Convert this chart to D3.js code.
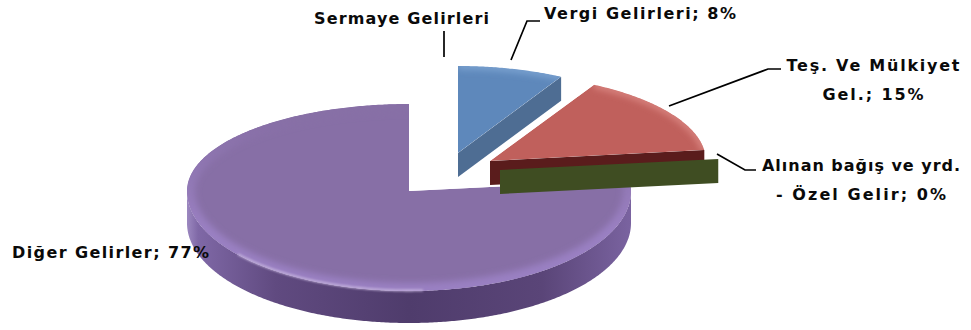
<!DOCTYPE html>
<html><head><meta charset="utf-8">
<script src="https://cdn.jsdelivr.net/npm/d3@7/dist/d3.min.js"></script>
<style>html,body{margin:0;background:#fff}svg{display:block}
text{font-family:"DejaVu Sans",sans-serif;font-weight:700;font-size:16px;fill:#0a0a0a}</style>
</head><body><svg id="c" width="971" height="330"></svg>
<script>
const categories=["Sermaye Gelirleri","Vergi Gelirleri","Teş. Ve Mülkiyet Gel.","Alınan bağış ve yrd. - Özel Gelir","Diğer Gelirler"];
const shares=[0,8,15,0,77];
const faceColors=["#5b86bd","#5e88bb","#c0605c","#6b8a3a","#876fa6"];
const rimColors=["#5b86bd","#7aa2d0","#d8837f","#6b8a3a","#9a80c2"];
const wallColors=["#4a6a92","#4e6d93","#5a1c1c","#3f4d22","#5f4a80"];
const labelLines=[["Sermaye Gelirleri"],["Vergi Gelirleri; 8%"],["Teş. Ve Mülkiyet","Gel.; 15%"],["Alınan bağış ve yrd.","- Özel Gelir; 0%"],["Diğer Gelirler; 77%"]];
// layout: slice apex, radii and thickness per slice
const apexX=[444,458,490,500,409], apexY=[140,153,161,170,191];
const depth=[0,24,24,24,32];
const radXs=[222,214,216,220,222], radTop=87, radBottom=100;
const labelAnchor=[[314,24],[544,19],[873,71],[861,171],[12,258]];
const labelWidth=[[175],[192],[173,101],[198,170],[197]];
const labelMode=["start","start","middle","middle","start"];
const leaders=[[[444,31],[444,57]],[[511,60],[527,21],[540,21]],[[669,106],[768,69],[781,69]],[[717,154],[745,170],[756,170]]];

const svg=d3.select("#c"), defs=svg.append("defs");
const blur=defs.append("filter").attr("id","soft").attr("filterUnits","userSpaceOnUse").attr("x",0).attr("y",0).attr("width",971).attr("height",330);
blur.append("feGaussianBlur").attr("stdDeviation",3);
const blur2=defs.append("filter").attr("id","soft2").attr("filterUnits","userSpaceOnUse").attr("x",0).attr("y",0).attr("width",971).attr("height",330);
blur2.append("feGaussianBlur").attr("stdDeviation",1.2);
const side=defs.append("linearGradient").attr("id","sideGrad").attr("gradientUnits","userSpaceOnUse")
  .attr("x1",187).attr("x2",631).attr("y1",0).attr("y2",0);
[[0,"#9c88c0"],[.025,"#7f68a6"],[.2,"#604a80"],[.5,"#4f3c6c"],[.8,"#5a4578"],[1,"#7a63a0"]].forEach(s=>side.append("stop").attr("offset",s[0]).attr("stop-color",s[1]));
const lip=defs.append("linearGradient").attr("id","lipGrad").attr("gradientUnits","userSpaceOnUse")
  .attr("x1",0).attr("x2",0).attr("y1",120).attr("y2",230);
[[0,"#876fa6"],[1,"#9a80c2"]].forEach(s=>lip.append("stop").attr("offset",s[0]).attr("stop-color",s[1]));

const pie=d3.pie().sort(null).value(d=>d).startAngle(0).endAngle(2*Math.PI);
const arcs=pie(shares);
const px=(i,a,f=1)=>apexX[i]+radXs[i]*f*Math.sin(a);
const py=(i,a,f=1)=>apexY[i]-(Math.cos(a)>0?radTop:radBottom)*f*Math.cos(a);
const line=d3.line().x(d=>d[0]).y(d=>d[1]);
const sweep=(i,a0,a1,f=1,dy=0)=>{
  const n=Math.max(2,Math.ceil(Math.abs(a1-a0)/0.01));
  return d3.range(n+1).map(k=>{const a=a0+(a1-a0)*k/n;return [px(i,a,f),py(i,a,f)+dy];});
};
// painting order: back to front
[4,1,2,3].forEach(i=>{
  const {startAngle:a0,endAngle:a1}=arcs[i], d=depth[i], g=svg.append("g");
  // outer wall: only the near half of the rim faces the viewer
  const lo=Math.max(a0,Math.PI/2), hi=Math.min(a1,3*Math.PI/2);
  if(hi>lo){
    const top=sweep(i,lo,hi), bot=sweep(i,hi,lo,1,d);
    g.append("path").attr("d",line(top.concat(bot))+"Z").attr("fill","url(#sideGrad)");
  }
  // cut wall at the clockwise end of the slice
  if(Math.sin(a1)>1e-6){
    const ex=px(i,a1), ey=py(i,a1);
    g.append("path").attr("d",line([[apexX[i],apexY[i]],[ex,ey],[ex,ey+d],[apexX[i],apexY[i]+d]])+"Z").attr("fill",wallColors[i]);
  }
  if(a1>a0){
    const face=line([[apexX[i],apexY[i]]].concat(sweep(i,a0,a1)))+"Z";
    const id="clip"+i;
    defs.append("clipPath").attr("id",id).append("path").attr("d",face);
    const f=g.append("g").attr("clip-path",`url(#${id})`);
    f.append("path").attr("d",face).attr("fill",faceColors[i]);
    // bevel: soft lighter band just inside the rim
    f.append("path").attr("d",line(sweep(i,a0,a1))).attr("fill","none")
      .attr("stroke",i===4?"url(#lipGrad)":rimColors[i]).attr("stroke-width",i===4?16:7).attr("filter","url(#soft)");
    if(i===4){
      // lit lip along the near rim
      g.append("path").attr("d",line(sweep(i,Math.PI*.98,Math.PI*1.28,1,-.5))).attr("fill","none")
        .attr("stroke","#c9b8e0").attr("stroke-width",1.8).attr("filter","url(#soft2)");
    }
  }
});
// leader lines
svg.append("g").selectAll("path").data(leaders).join("path")
  .attr("d",d=>line(d)).attr("fill","none").attr("stroke","#000").attr("stroke-width",1.7);
// labels
labelLines.forEach((ls,i)=>{
  ls.forEach((t,j)=>{
    svg.append("text").attr("x",labelAnchor[i][0]).attr("y",labelAnchor[i][1]+j*29)
      .attr("text-anchor",labelMode[i]).attr("textLength",labelWidth[i][j]).attr("lengthAdjust","spacing").text(t);
  });
});
</script></body></html>
